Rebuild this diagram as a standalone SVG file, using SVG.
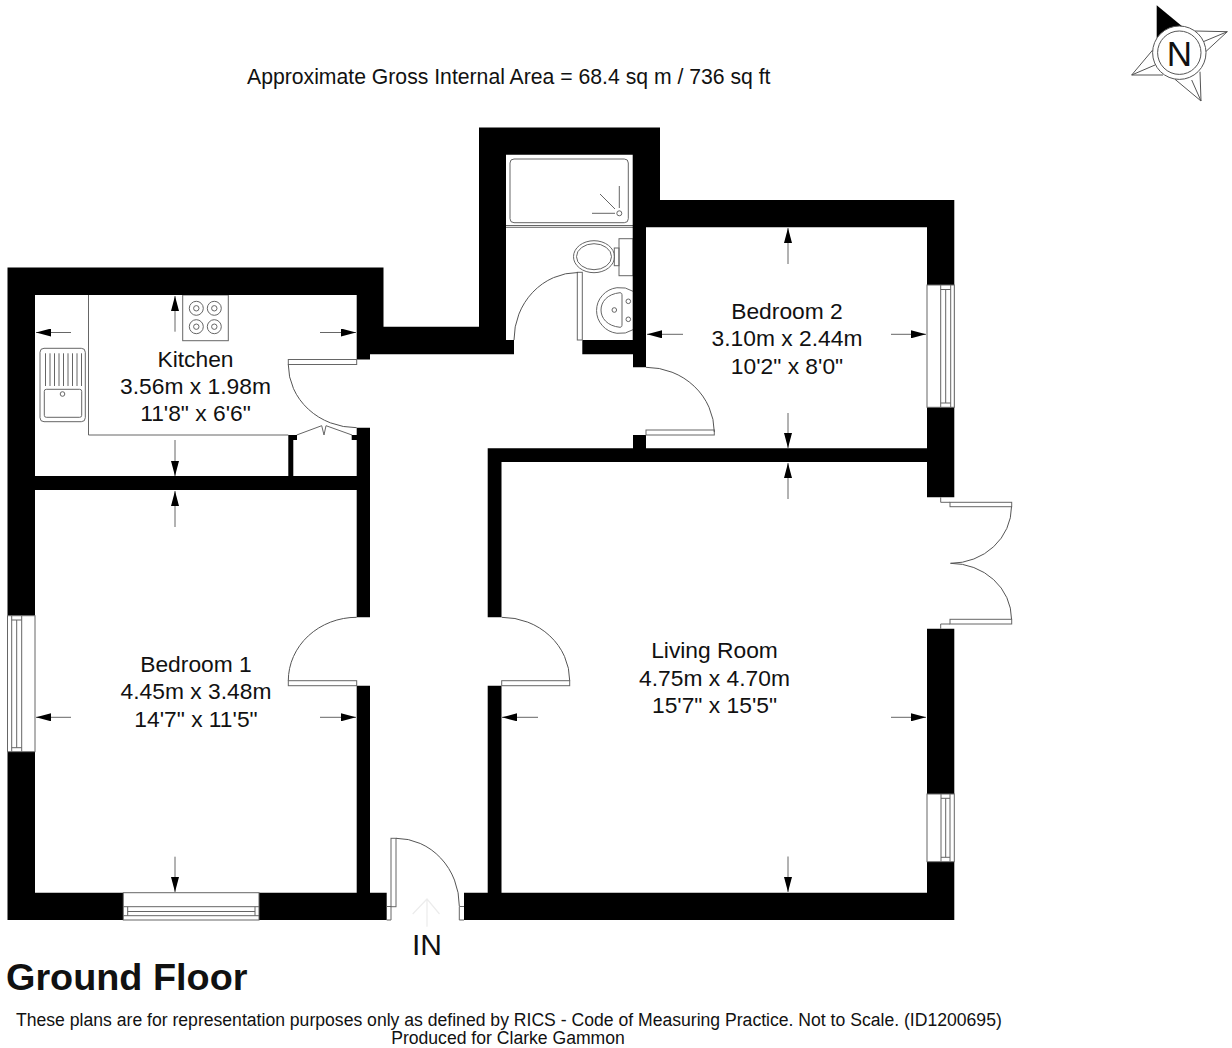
<svg xmlns="http://www.w3.org/2000/svg" width="1232" height="1048" viewBox="0 0 1232 1048">
<defs>
<style>
text{font-family:"Liberation Sans",Arial,sans-serif;fill:#111;font-size:22.8px}
.c{text-anchor:middle}
.l{fill:none;stroke:#666;stroke-width:1}
.a{fill:none;stroke:#555;stroke-width:1}
.d{fill:none;stroke:#666;stroke-width:1;marker-end:url(#tip)}
.w{fill:#000}
.f{fill:#fff;stroke:#666;stroke-width:1}
</style>
<marker id="tip" markerUnits="userSpaceOnUse" viewBox="0 0 15 8" refX="15" refY="4" markerWidth="15" markerHeight="8" orient="auto"><path d="M0 0L15 4L0 8z" fill="#000"/></marker>
</defs>
<rect width="1232" height="1048" fill="#fff"/>
<g id="fixtures">
<rect class="l" x="510" y="159" width="118.3" height="63.7" rx="4"/>
<path class="l" d="M619.3 186V208M592 213.3H615M600 194L615 209M506 225.5H633M506 227.3H633"/>
<circle class="l" cx="619.3" cy="213.3" r="2.5"/>
<rect class="l" x="619" y="238.7" width="14" height="37"/>
<rect class="l" x="614.3" y="248" width="4.7" height="17.7"/>
<ellipse class="l" cx="594" cy="256.7" rx="20.5" ry="16"/>
<ellipse class="l" cx="594" cy="256.7" rx="17.5" ry="13"/>
<path class="l" d="M633 291.3A23.5 23 0 1 0 633 329.7"/>
<path class="l" d="M620 292.7C607 294 601 302 601 310C601 318 607 326 620 327.300C622 327 622 326 622 324V296C622 294 622 293 620 292.700Z"/>
<circle class="l" cx="628.3" cy="301.3" r="2.3"/><circle class="l" cx="628.3" cy="319.3" r="2.3"/><circle class="l" cx="614.3" cy="310" r="2.3"/>
<path class="l" d="M88.5 295V435H288.3"/>
<rect class="l" x="182.7" y="295" width="45.6" height="45.7"/>
<circle class="l" cx="196.3" cy="308.3" r="7"/><circle class="l" cx="196.3" cy="308.3" r="2.7"/>
<circle class="l" cx="214.3" cy="308.3" r="7"/><circle class="l" cx="214.3" cy="308.3" r="2.7"/>
<circle class="l" cx="196.3" cy="326.7" r="7"/><circle class="l" cx="196.3" cy="326.7" r="2.7"/>
<circle class="l" cx="214.3" cy="326.7" r="7"/><circle class="l" cx="214.3" cy="326.7" r="2.7"/>
<rect class="l" x="40" y="348.3" width="45.3" height="73.4" rx="4"/>
<rect class="l" x="44.3" y="389.3" width="37.4" height="28" rx="2"/>
<circle class="l" cx="62.5" cy="394" r="2.3"/>
<path class="l" d="M45.5 353.3V386M50 353.3V386M54.5 353.3V386M59 353.3V386M63.500 353.3V386M68 353.3V386M72.500 353.3V386M77 353.3V386M81.500 353.3V386"/>
<path class="l" d="M296.700 435L321.700 425.700L324 435L326 425.700L352 435"/>
</g>
<g id="walls">
<path class="w" d="M7.500 267.500H383.500V326.700H479V127.500H660V200H954.300V497.300H927V462H501.500V617.300H487.700V448.300H633V435H646V448.300H927V227.300H646V367.300H633V354.300H582.300V340H632.700V154.700H506V340H514V354.300H370V359.500H356.700V295H35V476H288.300V435H297V440H293.300V476H356.700V440H351.700V435H356.700V427.700H370V617.300H356.700V490H35V615.700H7.500Z"/>
<path class="w" d="M7.500 751.700H35V892.700H123.300V920H7.500Z"/>
<path class="w" d="M259 892.700H356.700V685.700H370V892.700H386.700V920H259Z"/>
<path class="w" d="M464 892.700H487.700V685.700H501.500V892.700H927V861.700H954.300V920H464Z"/>
<path class="w" d="M927 628.700H954.300V794H927Z"/>
</g>
<g id="windows">
<rect class="f" x="7.500" y="615.700" width="27.500" height="136"/>
<path class="l" d="M11.700 615.700V751.700M16.700 620V747.700M21.700 615.700V751.700M11.700 620H21.700M11.700 747.700H21.700"/>
<rect class="f" x="123.300" y="892.700" width="135.700" height="27.300"/>
<path class="l" d="M123.300 906.700H259M127.700 911.500H255M123.300 915.700H259M127.700 906.700V915.700M255 906.700V915.700"/>
<rect class="f" x="927" y="285" width="27.300" height="122.300"/>
<path class="l" d="M940.700 285V407.300M945.700 289.500V403M950.700 285V407.300M940.700 289.500H950.700M940.700 403H950.700"/>
<rect class="f" x="927" y="794" width="27.300" height="67.700"/>
<path class="l" d="M941 794V861.700M945.700 798.300V857.300M950 794V861.700M941 798.300H950M941 857.300H950"/>
</g>
<g id="doors">
<rect class="f" x="646" y="430" width="68.300" height="5"/>
<path class="a" d="M646 367.300A68.300 65 0 0 1 714.300 432"/>
<rect class="f" x="577.300" y="272.300" width="5" height="67.700"/>
<path class="a" d="M578 272.500A64 67.500 0 0 0 514 340"/>
<rect class="f" x="288.300" y="359.500" width="68.400" height="5"/>
<path class="a" d="M288.300 364.500A68.400 63.200 0 0 0 356.700 427.700"/>
<rect class="f" x="288.300" y="680.700" width="68.400" height="5"/>
<path class="a" d="M356.700 617.300A68.400 63.400 0 0 0 288.300 680.700"/>
<rect class="f" x="501.700" y="680.700" width="68" height="5"/>
<path class="a" d="M501.700 617.300A68 63.400 0 0 1 569.700 680.700"/>
<rect class="f" x="391" y="838.300" width="5" height="68.400"/>
<path class="a" d="M396 838.300A63.300 67.700 0 0 1 459.300 906"/>
<path class="l" d="M386.700 906.500H391V920H386.700M464 906.500H459.300V920H464"/>
<rect class="f" x="950" y="502.300" width="61.700" height="4.400"/>
<rect class="f" x="950" y="619.300" width="61.700" height="4.700"/>
<path class="a" d="M1011.500 506.700A61 56.600 0 0 1 950.500 563.300A61 55.700 0 0 1 1011.500 619"/>
<path class="l" d="M940.700 497.300V502.300H950M940.700 628.700V624H950"/>
<path d="M427 926.700V899M412.700 914L427 899L439.500 914" fill="none" stroke="#ececec" stroke-width="1.200"/>
</g>
<g id="connectors">
<path class="d" d="M71 332.500H36"/><path class="d" d="M320 332.500H356"/><path class="d" d="M175 331.700V296"/><path class="d" d="M175 440V476"/>
<path class="d" d="M175 527V491"/><path class="d" d="M71 717.300H36"/><path class="d" d="M320 717.300H356"/><path class="d" d="M175 856.700V892"/>
<path class="d" d="M538 717.300H502"/><path class="d" d="M891 717.300H926"/><path class="d" d="M788 499V463"/><path class="d" d="M788 856.500V892"/>
<path class="d" d="M788 264V228"/><path class="d" d="M788 413V448"/><path class="d" d="M683 334.300H647"/><path class="d" d="M891 334.300H926"/>
</g>
<g id="compass">
<path d="M1156.700 5.300L1182.700 26.700L1156.700 38Z" fill="#000"/>
<path class="a" d="M1195 31L1227.300 31.700L1205.700 51.700M1227.300 31.700L1203.300 41.700M1152.700 50L1131.700 75L1163 75M1131.700 75L1155 65M1175 79.300L1201 101L1200 71.700M1201 101L1191.700 80"/>
<circle cx="1179.300" cy="52.700" r="26.700" fill="#fff" stroke="#555"/>
<circle cx="1179.300" cy="52.700" r="21.700" fill="#fff" stroke="#555"/>
<text class="c" x="1179.300" y="65.500" style="font-size:35px">N</text>
</g>
<g id="labels">
<text x="247" y="84" style="font-size:21.200px">Approximate Gross Internal Area = 68.4 sq m / 736 sq ft</text>
<g id="kitchen"><text class="c" x="195.500" y="366.500">Kitchen</text><text class="c" x="195.500" y="393.500">3.56m x 1.98m</text><text class="c" x="195.500" y="421">11'8" x 6'6"</text></g>
<g id="bedroom1"><text class="c" x="196" y="671.700">Bedroom 1</text><text class="c" x="196" y="699">4.45m x 3.48m</text><text class="c" x="196" y="726.700">14'7" x 11'5"</text></g>
<g id="bedroom2"><text class="c" x="787" y="318.500">Bedroom 2</text><text class="c" x="787" y="346">3.10m x 2.44m</text><text class="c" x="787" y="373.500">10'2" x 8'0"</text></g>
<g id="living"><text class="c" x="714.500" y="658">Living Room</text><text class="c" x="714.500" y="685.500">4.75m x 4.70m</text><text class="c" x="714.500" y="712.500">15'7" x 15'5"</text></g>
<text class="c" x="427" y="955" style="font-size:30px">IN</text>
<text x="6" y="990" style="font-size:37.800px;font-weight:bold">Ground Floor</text>
<text x="16" y="1026" style="font-size:17.600px">These plans are for representation purposes only as defined by RICS - Code of Measuring Practice. Not to Scale. (ID1200695)</text>
<text class="c" x="508" y="1044" style="font-size:17.600px">Produced for Clarke Gammon</text>
</g>
</svg>
